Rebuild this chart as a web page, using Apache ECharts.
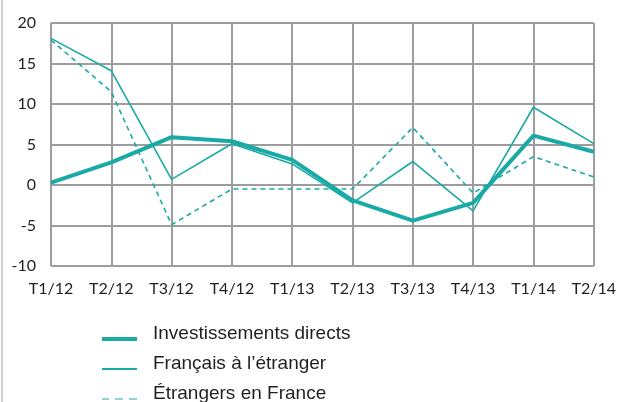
<!DOCTYPE html>
<html>
<head>
<meta charset="utf-8">
<script src="https://cdn.jsdelivr.net/npm/echarts@6/dist/echarts.min.js"></script>
<style>
html,body{margin:0;padding:0;background:#fff;}
#c{width:619px;height:402px;}
</style>
</head>
<body>
<div id="c"></div>
<script>
const categories = ['T1/12','T2/12','T3/12','T4/12','T1/13','T2/13','T3/13','T4/13','T1/14','T2/14'];
const investissementsDirects = [0.3, 2.8, 5.9, 5.4, 3.1, -1.9, -4.4, -2.2, 6.1, 4.1];
const francaisEtranger = [18.1, 14.1, 0.7, 5.1, 2.6, -2.2, 2.9, -3.2, 9.6, 5.1];
const etrangersFrance = [17.9, 11.5, -4.9, -0.5, -0.5, -0.5, 7.1, -1.0, 3.5, 1.0];
const yTicks = [-10, -5, 0, 5, 10, 15, 20];
const seriesNames = ['Investissements directs', 'Français à l\u2019étranger', 'Étrangers en France'];

const teal = '#19aaa6';
const gridColor = '#9d9d9f';
const frame = 'M0,0L0.01,0Z M0,20L0.01,20Z ';
const icons = [
  'path://' + frame + 'M0,13L35,13L35,17L0,17Z',
  'path://' + frame + 'M0,14L35,14L35,16L0,16Z',
  'path://' + frame + 'M0,14L7,14L7,16L0,16Z M13,14L21,14L21,16L13,16Z M27,14L35,14L35,16L27,16Z'
];
const chart = echarts.init(document.getElementById('c'), null, {renderer: 'canvas'});
chart.setOption({
  animation: false,
  backgroundColor: '#fff',
  grid: {left: 51, right: 25, top: 23, bottom: 136, containLabel: false},
  graphic: [{
    type: 'rect', left: 1, top: 0, shape: {width: 2, height: 402},
    style: {fill: '#cfcfcf'}, silent: true
  }],
  xAxis: {
    type: 'category',
    data: categories,
    boundaryGap: false,
    axisLine: {show: false},
    axisTick: {show: false},
    axisLabel: {
      margin: 15, color: '#231f20', fontFamily: 'Lato', fontSize: 16,
      interval: 0
    },
    splitLine: {show: true, lineStyle: {color: gridColor, width: 2}}
  },
  yAxis: {
    type: 'value',
    min: yTicks[0], max: yTicks[yTicks.length - 1], interval: 5,
    axisLine: {show: false},
    axisTick: {show: false},
    axisLabel: {margin: 15, color: '#231f20', fontFamily: 'Lato', fontSize: 16},
    splitLine: {show: true, lineStyle: {color: gridColor, width: 2}}
  },
  legend: {
    orient: 'vertical',
    left: 97, top: 319, height: 120, width: 400,
    itemWidth: 35, itemHeight: 20, itemGap: 10,
    data: [
      {name: seriesNames[0], icon: icons[0], itemStyle: {color: teal}},
      {name: seriesNames[1], icon: icons[1], itemStyle: {color: teal}},
      {name: seriesNames[2], icon: icons[2], itemStyle: {color: '#8fd4d1'}}
    ],
    textStyle: {
      fontFamily: 'Liberation Sans', fontSize: 19, color: '#231f20',
      padding: [0, 0, 0, 11]
    }
  },
  series: [
    {
      name: seriesNames[2], type: 'line', data: etrangersFrance,
      symbol: 'none', z: 2,
      lineStyle: {color: teal, width: 1.6, type: [5, 4]},
      itemStyle: {color: '#8fd4d1'}
    },
    {
      name: seriesNames[1], type: 'line', data: francaisEtranger,
      symbol: 'none', z: 3,
      lineStyle: {color: teal, width: 1.6},
      itemStyle: {color: teal}
    },
    {
      name: seriesNames[0], type: 'line', data: investissementsDirects,
      symbol: 'none', z: 4,
      lineStyle: {color: teal, width: 4},
      itemStyle: {color: teal}
    }
  ]
});
</script>
</body>
</html>
